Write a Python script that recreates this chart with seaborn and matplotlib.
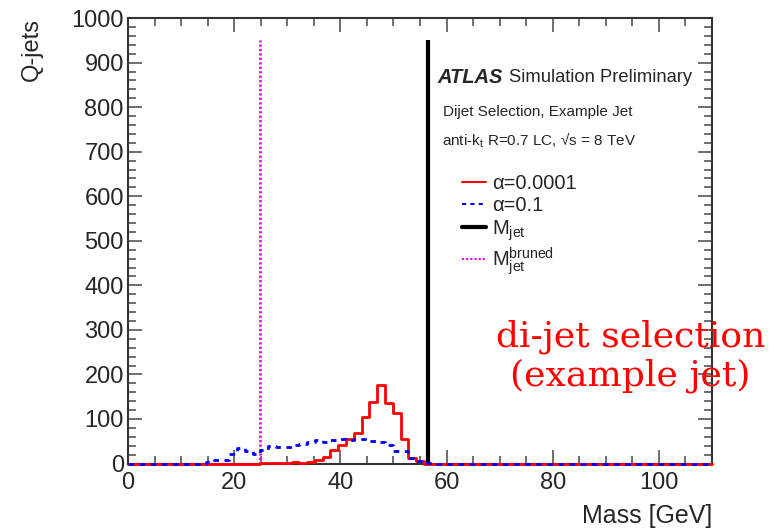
import numpy as np
import pandas as pd
import matplotlib
matplotlib.use('Agg')
import matplotlib.pyplot as plt
from matplotlib.lines import Line2D
from matplotlib.ticker import MultipleLocator
import seaborn as sns

# binning of the mass histograms (75 bins between 0 and 110 GeV)
mass_min, mass_max, n_bins = 0, 110, 75

# counts per bin
red_counts = [0] * 17 + [1, 1, 2, 2, 4, 2, 4, 8, 14, 31, 41, 56, 69, 105, 139, 176,
                         135, 114, 56, 13, 6] + [0] * 37
blue_counts = [0] * 10 + [3, 7, 8, 22, 34, 27, 22, 30, 40, 38, 38, 41, 43, 49, 52, 49,
                          52, 54, 52, 54, 56, 51, 49, 41, 28, 28, 13, 6, 1] + [0] * 36

m_jet = 56.6
m_jet_pruned = 24.9
line_top = 950

sns.set_style('ticks')
plt.rcParams['font.family'] = ['Liberation Sans', 'DejaVu Sans']
plt.rcParams['mathtext.fontset'] = 'custom'
plt.rcParams['mathtext.rm'] = 'Liberation Sans'
plt.rcParams['mathtext.it'] = 'Liberation Sans:italic'

edges = np.linspace(mass_min, mass_max, n_bins + 1)
# step curves: each count repeated at the right edge so the last bin closes
df = pd.DataFrame({'mass': edges,
                   'red': red_counts + red_counts[-1:],
                   'blue': blue_counts + blue_counts[-1:]})

fig = plt.figure(figsize=(7.71, 5.29), dpi=100)
ax = fig.add_axes([0.166, 0.1238, 0.7575, 0.842])

# histogrammes
sns.lineplot(df, x='mass', y='red', estimator=None, drawstyle='steps-post',
             color='red', linewidth=2, clip_on=False, zorder=3, ax=ax)
sns.lineplot(df, x='mass', y='blue', estimator=None, drawstyle='steps-post',
             color='blue', linewidth=2, dashes=False, linestyle=(0, (2, 2)),
             clip_on=False, zorder=4, ax=ax)

# vertical lines
ax.vlines(m_jet, 0, line_top, color='black', linewidth=3)
ax.vlines(m_jet_pruned, 0, line_top, color='magenta', linewidth=2, linestyles=(0, (0.8, 0.8)))

ax.set_xlim(mass_min, mass_max)
ax.set_ylim(0, 1000)
ax.xaxis.set_major_locator(MultipleLocator(20))
ax.xaxis.set_minor_locator(MultipleLocator(5))
ax.yaxis.set_major_locator(MultipleLocator(100))
ax.yaxis.set_minor_locator(MultipleLocator(20))
ax.tick_params(which='both', direction='in', top=True, right=True, color='#555555',
               labelsize=17, width=1.2)
ax.tick_params(which='major', length=10)
ax.tick_params(axis='x', which='major', pad=6)
ax.tick_params(axis='y', which='major', pad=3)
ax.tick_params(which='minor', length=6)
for s in ax.spines.values():
    s.set_linewidth(1.5)
    s.set_color('#333333')

ax.set_xlabel('Mass [GeV]', fontsize=18, loc='right')
ax.set_ylabel('Q-jets', fontsize=17, loc='top')
ax.yaxis.set_label_coords(-0.145, 1.0)
ax.xaxis.set_label_coords(1.0, -0.09)

# ATLAS labels
fig.text(0.567, 0.854, 'ATLAS', fontsize=14.5, fontweight='bold', fontstyle='italic', va='center')
fig.text(0.66, 0.854, 'Simulation Preliminary', fontsize=13.2, va='center')
fig.text(0.575, 0.788, 'Dijet Selection, Example Jet', fontsize=11, va='center')
fig.text(0.573, 0.735, r'anti-k$_\mathregular{t}$ R=0.7 LC, √s = 8 TeV', fontsize=11, va='center')

handles = [
    Line2D([], [], color='red', linewidth=1.5),
    Line2D([], [], color='blue', linewidth=1.5, linestyle=(0, (2, 2))),
    Line2D([], [], color='black', linewidth=3),
    Line2D([], [], color='magenta', linewidth=1.5, linestyle=(0, (1, 1))),
]
labels = ['α=0.0001', 'α=0.1', r'M$_\mathregular{jet}$', r'M$_\mathregular{jet}^\mathregular{bruned}$']
ax.legend(handles, labels, loc='upper left', bbox_to_anchor=(0.572, 0.65), frameon=False,
          fontsize=14.5, handlelength=1.2, handletextpad=0.3, labelspacing=0.15,
          borderpad=0, borderaxespad=0)

# red annotation
fig.text(0.818, 0.326, 'di-jet selection\n(example jet)', fontsize=26, color='red',
         family=['DejaVu Serif'], ha='center', va='center',
         linespacing=1.15, multialignment='center')

fig.savefig('out.png', dpi=100)
